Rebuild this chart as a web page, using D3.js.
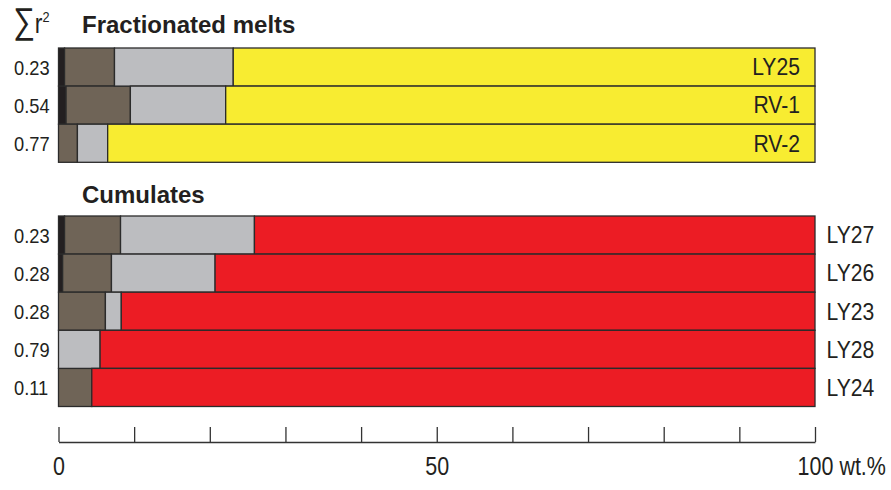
<!DOCTYPE html>
<html>
<head>
<meta charset="utf-8">
<script src="https://cdn.jsdelivr.net/npm/d3@7"></script>
<style>
  html, body { margin: 0; padding: 0; background: #fff; }
  svg { display: block; }
  .lbl { font-family: "Liberation Sans", Arial, sans-serif; fill: #231f20; }
  .title { font-family: "Liberation Sans", Arial, sans-serif; font-weight: bold; fill: #231f20; }
</style>
</head>
<body>
<svg id="chart" width="891" height="490"></svg>
<script>
// Phase proportions (wt.%) per sample; the last phase fills the rest of the bar.
const phases = ["phaseBlack", "phaseBrown", "phaseGrey", "rest"];

const meltSamples = ["LY25", "RV-1", "RV-2"];
const meltR2 = ["0.23", "0.54", "0.77"];
const meltBlack = [0.8, 1.0, 0];
const meltBrown = [6.6, 8.5, 2.5];
const meltGrey = [15.7, 12.6, 4.0];
const meltRest = [76.9, 77.9, 93.5];

const cumSamples = ["LY27", "LY26", "LY23", "LY28", "LY24"];
const cumR2 = ["0.23", "0.28", "0.28", "0.79", "0.11"];
const cumBlack = [0.8, 0.55, 0, 0, 0];
const cumBrown = [7.4, 6.45, 6.2, 0, 4.4];
const cumGrey = [17.7, 13.7, 2.1, 5.5, 0];
const cumRest = [74.1, 79.3, 91.7, 94.5, 95.6];

const axisTicks = [0, 10, 20, 30, 40, 50, 60, 70, 80, 90, 100];
const axisLabelled = [0, 50, 100];
const axisUnit = "wt.%";

const meltColors = ["#231f20", "#6f6457", "#bcbdc0", "#f8ec31"];
const cumColors = ["#231f20", "#6f6457", "#bcbdc0", "#ec1c24"];

const svg = d3.select("#chart");
const x = d3.scaleLinear().domain([0, 100]).range([58.5, 815]);

// condensed-looking text: regular face squeezed horizontally
function squeezed(sel, px, py, sx) {
  return sel.attr("x", 0).attr("y", 0)
    .attr("transform", (d, i) => `translate(${typeof px === "function" ? px(d, i) : px},${typeof py === "function" ? py(d, i) : py}) scale(${sx},1)`);
}

function buildRows(samples, r2, cols) {
  return samples.map((s, i) => {
    const row = { sample: s, r2: r2[i] };
    phases.forEach((p, j) => { row[p] = cols[j][i]; });
    return row;
  });
}

function drawGroup(rows, top, bottom, colors, labelInside, title, titleY) {
  const y = d3.scaleBand().domain(rows.map(d => d.sample)).range([top, bottom]).padding(0);
  const stacked = d3.stack().keys(phases)(rows);
  const g = svg.append("g");

  g.selectAll("g.layer")
    .data(stacked)
    .join("g")
    .attr("class", "layer")
    .attr("fill", (d, i) => colors[i])
    .selectAll("rect")
    .data(d => d.filter(v => v[1] - v[0] > 0))
    .join("rect")
    .attr("x", d => x(d[0]))
    .attr("y", d => y(d.data.sample))
    .attr("width", d => x(d[1]) - x(d[0]))
    .attr("height", y.bandwidth())
    .attr("stroke", "#2b2b2b")
    .attr("stroke-width", 1.3);

  // goodness-of-fit values on the left
  g.selectAll("text.r2")
    .data(rows)
    .join("text")
    .attr("class", "lbl r2")
    .attr("dy", "0.36em")
    .attr("font-size", 21)
    .text(d => d.r2)
    .call(squeezed, 14, d => y(d.sample) + y.bandwidth() / 2, 0.87);

  // sample names
  g.selectAll("text.sample")
    .data(rows)
    .join("text")
    .attr("class", "lbl sample")
    .attr("text-anchor", labelInside ? "end" : "start")
    .attr("dy", "0.36em")
    .attr("font-size", 23)
    .text(d => d.sample)
    .call(squeezed, labelInside ? x(100) - 15 : x(100) + 11.5, d => y(d.sample) + y.bandwidth() / 2, 0.92);

  svg.append("text")
    .attr("class", "title")
    .attr("x", 82)
    .attr("y", titleY)
    .attr("font-size", 24)
    .text(title);
}

drawGroup(buildRows(meltSamples, meltR2, [meltBlack, meltBrown, meltGrey, meltRest]),
  48, 162.3, meltColors, true, "Fractionated melts", 33);
drawGroup(buildRows(cumSamples, cumR2, [cumBlack, cumBrown, cumGrey, cumRest]),
  216, 406.5, cumColors, false, "Cumulates", 203);

// Σr² header
const head = svg.append("text")
  .attr("class", "lbl")
  .call(squeezed, 13, 33, 0.85);
head.append("tspan").attr("font-size", 36).text("\u2211");
head.append("tspan").attr("font-size", 27).text("r");
head.append("tspan").attr("font-size", 15).attr("dy", -11).text("2");

// bottom axis with upward ticks
const axis = d3.axisBottom(x)
  .tickValues(axisTicks)
  .tickSize(-15)
  .tickSizeOuter(0)
  .tickPadding(15)
  .tickFormat(d => axisLabelled.includes(d) ? String(d) : "");

const ax = svg.append("g")
  .attr("transform", "translate(0,442)")
  .call(axis);

ax.select(".domain").attr("stroke", "#333").attr("stroke-width", 1.4);
ax.selectAll(".tick line").attr("stroke", "#333").attr("stroke-width", 1.3);
ax.selectAll(".tick text")
  .attr("class", "lbl")
  .attr("font-size", 25)
  .attr("font-family", null)
  .attr("fill", "#231f20")
  .attr("transform", "scale(0.86,1)");

// unit appended after the last label
ax.selectAll(".tick text")
  .filter(d => d === 100)
  .each(function () {
    const t = d3.select(this);
    const w = this.getComputedTextLength();
    t.attr("text-anchor", "start").attr("x", -w / 2);
    t.append("tspan").text(" " + axisUnit);
  });
</script>
</body>
</html>
